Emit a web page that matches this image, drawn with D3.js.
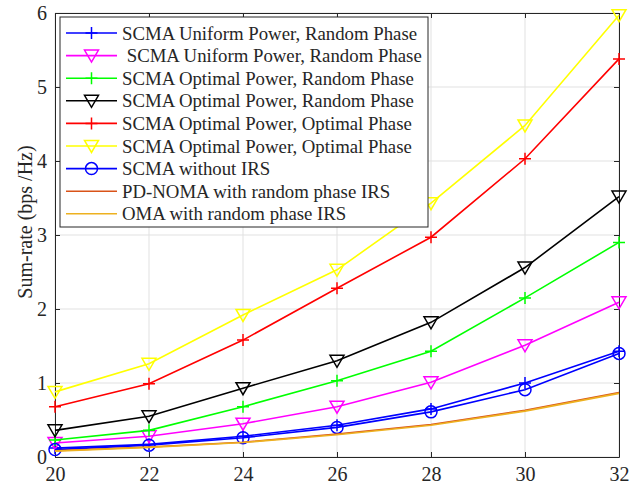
<!DOCTYPE html>
<html>
<head>
<meta charset="utf-8">
<script src="https://cdn.jsdelivr.net/npm/d3@7"></script>
<style>
  body { margin: 0; background: #fff; }
  text { font-family: "Liberation Serif", "Times New Roman", serif; fill: #262626; }
</style>
</head>
<body>
<div id="chart"></div>
<script>
// Data
const xValues = [20, 22, 24, 26, 28, 30, 32];
const xTicks = [20, 22, 24, 26, 28, 30, 32];
const yTicks = [0, 1, 2, 3, 4, 5, 6];

const uniformRandomPlus = [0.12, 0.17, 0.28, 0.43, 0.65, 1.00, 1.43];
const uniformRandomTri = [0.19, 0.28, 0.45, 0.68, 1.01, 1.51, 2.09];
const optimalRandomPlus = [0.23, 0.36, 0.68, 1.03, 1.43, 2.15, 2.90];
const optimalRandomTri = [0.36, 0.55, 0.93, 1.30, 1.82, 2.56, 3.52];
const optimalOptimalPlus = [0.68, 0.99, 1.58, 2.28, 2.97, 4.03, 5.38];
const optimalOptimalTri = [0.88, 1.26, 1.92, 2.53, 3.43, 4.48, 5.97];
const withoutIrs = [0.10, 0.16, 0.26, 0.40, 0.61, 0.91, 1.40];
const pdNoma = [0.085, 0.135, 0.20, 0.31, 0.44, 0.63, 0.87];
const oma = [0.08, 0.13, 0.195, 0.30, 0.43, 0.62, 0.86];

const series = [
    { name: "SCMA Uniform Power, Random Phase", values: uniformRandomPlus, color: "#0000ff", marker: "plus" },
    { name: " SCMA Uniform Power, Random Phase", values: uniformRandomTri, color: "#ff00ff", marker: "tri" },
    { name: "SCMA Optimal Power, Random Phase", values: optimalRandomPlus, color: "#00ff00", marker: "plus" },
    { name: "SCMA Optimal Power, Random Phase", values: optimalRandomTri, color: "#000000", marker: "tri" },
    { name: "SCMA Optimal Power, Optimal Phase", values: optimalOptimalPlus, color: "#ff0000", marker: "plus" },
    { name: "SCMA Optimal Power, Optimal Phase", values: optimalOptimalTri, color: "#ffff00", marker: "tri" },
    { name: "SCMA without IRS", values: withoutIrs, color: "#0000ff", marker: "circle" },
    { name: "PD-NOMA with random phase IRS", values: pdNoma, color: "#d95319", marker: "none" },
    { name: "OMA with random phase IRS", values: oma, color: "#edb120", marker: "none" }
];

// Set the dimensions and margins of the graph
const margin = { top: 13, right: 12, bottom: 29, left: 55 },
    width = 631 - margin.left - margin.right,
    height = 486 - margin.top - margin.bottom;

const svg = d3.select("#chart")
    .append("svg")
    .attr("width", width + margin.left + margin.right)
    .attr("height", height + margin.top + margin.bottom)
    .append("g")
    .attr("transform", `translate(${margin.left},${margin.top})`);

const x = d3.scaleLinear().domain([20, 32]).range([0, width]);
const y = d3.scaleLinear().domain([0, 6]).range([height, 0]);

// Grid lines
svg.append("g")
    .selectAll("line")
    .data(xTicks)
    .join("line")
    .attr("x1", d => x(d)).attr("x2", d => x(d))
    .attr("y1", 0).attr("y2", height)
    .attr("stroke", "#e1e1e1").attr("stroke-width", 1);
svg.append("g")
    .selectAll("line")
    .data(yTicks)
    .join("line")
    .attr("x1", 0).attr("x2", width)
    .attr("y1", d => y(d)).attr("y2", d => y(d))
    .attr("stroke", "#e1e1e1").attr("stroke-width", 1);

// Axes (box with inward ticks)
const axisStyle = g => {
    g.attr("font-size", 20).attr("font-family", "Liberation Serif");
    g.selectAll("path.domain").attr("stroke", "#262626");
    g.selectAll(".tick line").attr("stroke", "#262626");
    g.selectAll("text")
        .attr("font-family", "Liberation Serif")
        .attr("font-size", 20)
        .style("font-family", '"Liberation Serif", serif')
        .style("font-size", "20px")
        .attr("fill", "#262626");
};

svg.append("g")
    .attr("transform", `translate(0,${height})`)
    .call(d3.axisBottom(x).tickValues(xTicks).tickSize(-5).tickSizeOuter(0).tickPadding(10).tickFormat(d3.format("d")))
    .call(axisStyle);
svg.append("g")
    .call(d3.axisTop(x).tickValues(xTicks).tickSize(-5).tickSizeOuter(0).tickFormat(""))
    .call(axisStyle);
svg.append("g")
    .call(d3.axisLeft(y).tickValues(yTicks).tickSize(-5).tickSizeOuter(0).tickPadding(8).tickFormat(d3.format("d")))
    .call(axisStyle);
svg.append("g")
    .attr("transform", `translate(${width},0)`)
    .call(d3.axisRight(y).tickValues(yTicks).tickSize(-5).tickSizeOuter(0).tickFormat(""))
    .call(axisStyle);

// Y axis label
svg.append("text")
    .attr("transform", `translate(-23,${height / 2 - 13}) rotate(-90)`)
    .attr("text-anchor", "middle")
    .style("font-size", "20px")
    .text("Sum-rate (bps /Hz)");

// Marker drawing
function drawMarker(g, type, color) {
    if (type === "plus") {
        g.append("path").attr("d", "M-6,0H6M0,-6V6")
            .attr("stroke", color).attr("stroke-width", 1.5).attr("fill", "none");
    } else if (type === "tri") {
        g.append("path").attr("d", "M-7,-5.5L7,-5.5L0,6.5Z")
            .attr("stroke", color).attr("stroke-width", 1.5).attr("fill", "none");
    } else if (type === "circle") {
        g.append("circle").attr("r", 6)
            .attr("stroke", color).attr("stroke-width", 1.5).attr("fill", "none");
    }
}

const line = d3.line()
    .x((d, i) => x(xValues[i]))
    .y(d => y(d));

const plot = svg.append("g");
series.forEach(s => {
    plot.append("path")
        .datum(s.values)
        .attr("d", line)
        .attr("fill", "none")
        .attr("stroke", s.color)
        .attr("stroke-width", 1.6);
    s.values.forEach((v, i) => {
        const m = plot.append("g").attr("transform", `translate(${x(xValues[i])},${y(v)})`);
        drawMarker(m, s.marker, s.color);
    });
});

// Legend
const legend = svg.append("g").attr("transform", "translate(5,4)");
legend.append("rect")
    .attr("width", 368).attr("height", 210)
    .attr("fill", "#fff").attr("stroke", "#262626").attr("stroke-width", 1);

series.forEach((s, i) => {
    const row = legend.append("g").attr("transform", `translate(0,${16 + i * 22.6})`);
    row.append("line")
        .attr("x1", 6).attr("x2", 57)
        .attr("stroke", s.color).attr("stroke-width", 1.6);
    const m = row.append("g").attr("transform", "translate(31.5,0)");
    drawMarker(m, s.marker, s.color);
    row.append("text")
        .attr("x", 62).attr("y", 0)
        .attr("dy", "0.35em")
        .style("font-size", "18.8px")
        .style("white-space", "pre")
        .text(s.name);
});
</script>
</body>
</html>
